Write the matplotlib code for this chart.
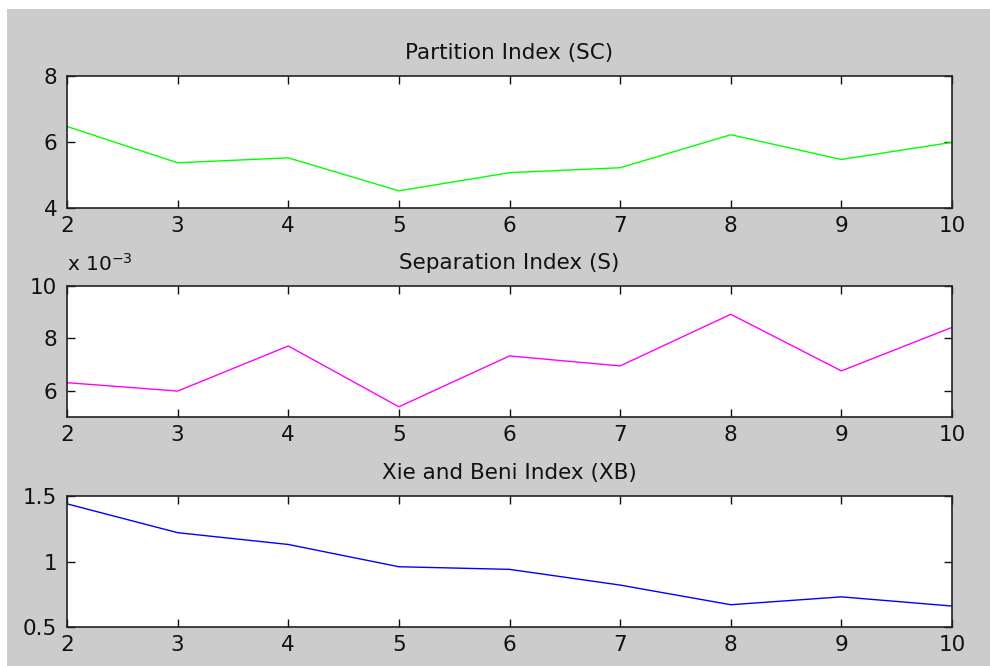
import matplotlib
matplotlib.use("Agg")
import matplotlib.pyplot as plt
from matplotlib.patches import Rectangle
from matplotlib.ticker import FuncFormatter

clusters = [2, 3, 4, 5, 6, 7, 8, 9, 10]
sc_values = [6.47, 5.37, 5.52, 4.52, 5.07, 5.22, 6.22, 5.47, 5.99]
s_values = [6.31, 5.99, 7.71, 5.39, 7.33, 6.95, 8.92, 6.76, 8.42]  # x 10^-3
xb_values = [1.44, 1.22, 1.13, 0.96, 0.94, 0.82, 0.67, 0.73, 0.66]

titles = ["Partition Index (SC)", "Separation Index (S)", "Xie and Beni Index (XB)"]
colors = ["#00ff00", "#ff00ff", "#0000ff"]
ylims = [(4, 8), (5, 10), (0.5, 1.5)]
yticks = [[4, 6, 8], [6, 8, 10], [0.5, 1, 1.5]]
xticks = clusters

plt.rcParams['font.family'] = ['DejaVu Sans']

W, H = 990, 666
fig = plt.figure(figsize=(W / 100, H / 100), dpi=100, facecolor="white")
fig.patches.append(Rectangle((7 / W, 0), 1, (H - 9) / H, transform=fig.transFigure,
                             facecolor="#cccccc", edgecolor="none", zorder=-10))

left = 67 / W
width = (952 - 67) / W
rows = [(76, 208), (286, 417), (496, 627)]
series = [sc_values, s_values, xb_values]

def fmt(v, pos):
    return "%g" % v

for i, (top, bot) in enumerate(rows):
    ax = fig.add_axes([left, (H - bot) / H, width, (bot - top) / H])
    ax.set_facecolor("white")
    ax.plot(clusters, series[i], color=colors[i], lw=1.0)
    ax.set_xlim(2, 10)
    ax.set_ylim(*ylims[i])
    ax.set_xticks(xticks)
    ax.set_yticks(yticks[i])
    ax.yaxis.set_major_formatter(FuncFormatter(fmt))
    ax.tick_params(direction="in", length=6, width=1.0, top=True, right=True,
                   labelsize=15.5, colors="#111111", pad=6)
    ax.tick_params(axis="y", pad=7)
    for sp in ax.spines.values():
        sp.set_linewidth(1.2)
        sp.set_color("#222222")
    ax.set_title(titles[i], fontsize=15.5, pad=12, color="#111111")
    if i == 1:
        ax.annotate(r"x 10$^{-3}$", xy=(0, 1), xycoords="axes fraction",
                    xytext=(0, 8), textcoords="offset points", fontsize=14.5,
                    ha="left", va="bottom", color="#111111")

fig.savefig("out.png", dpi=100, facecolor=fig.get_facecolor())
